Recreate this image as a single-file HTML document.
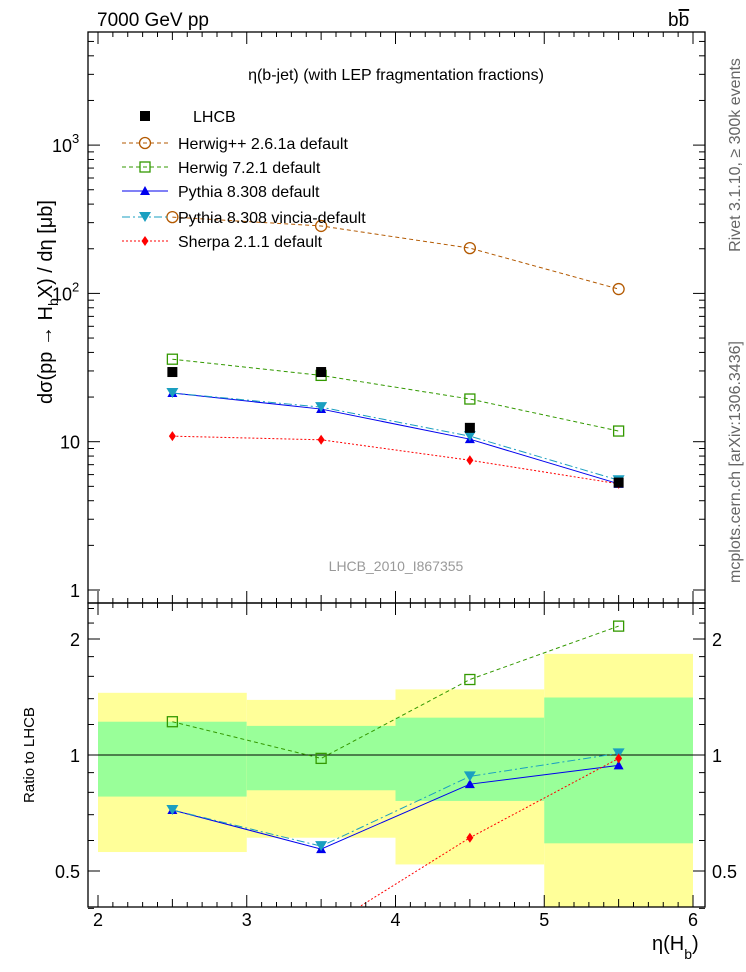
<!DOCTYPE html>
<html><head><meta charset="utf-8"><style>
body{margin:0;background:#fff}
svg{display:block;font-family:"Liberation Sans",sans-serif}
</style></head><body>
<svg id="chart" width="746" height="972" viewBox="0 0 746 972">
<defs>
<clipPath id="cm"><rect x="88" y="32" width="617" height="571"/></clipPath>
<clipPath id="cr"><rect x="88" y="603" width="617" height="304"/></clipPath>
</defs>
<g id="bands" clip-path="url(#cr)"></g>
<g id="main" clip-path="url(#cm)"></g>
<g id="ratio" clip-path="url(#cr)"></g>
<g id="axes"></g>
<text x="97" y="26" font-size="19">7000 GeV pp</text>
<text x="668" y="26" font-size="19">b<tspan text-decoration="overline">b</tspan></text>
<text x="396" y="80" font-size="16" text-anchor="middle">η(b-jet) (with LEP fragmentation fractions)</text>
<text x="396" y="571" font-size="14" fill="#999" text-anchor="middle">LHCB_2010_I867355</text>
<text transform="translate(52,302) rotate(-90)" font-size="20" text-anchor="middle">dσ(pp → H<tspan font-size="14" dy="6">b</tspan><tspan dy="-6">X) / dη [μb]</tspan></text>
<text transform="translate(34,755) rotate(-90)" font-size="15" text-anchor="middle">Ratio to LHCB</text>
<text x="652" y="950" font-size="20">η(H<tspan font-size="14" dy="9">b</tspan><tspan dy="-9">)</tspan></text>
<text transform="translate(740,155) rotate(-90)" font-size="16" fill="#666" text-anchor="middle">Rivet 3.1.10, ≥ 300k events</text>
<text transform="translate(740,462) rotate(-90)" font-size="16" fill="#666" text-anchor="middle">mcplots.cern.ch [arXiv:1306.3436]</text>
<g id="legend"></g>
</svg>
<script>
const xCenters=[2.5,3.5,4.5,5.5];
const binEdges=[2,3,4,5,6];
const lhcb=[29.5,29.5,12.4,5.3];
const herwigpp=[327,285,202,107];
const herwig7=[36,28,19.4,11.8];
const pythia=[21.3,16.6,10.4,5.2];
const vincia=[21.3,17.1,10.9,5.5];
const sherpa=[10.9,10.3,7.5,5.2];
const yellowHi=[1.45,1.39,1.48,1.83];
const yellowLo=[0.56,0.61,0.52,0.38];
const greenHi=[1.22,1.19,1.25,1.41];
const greenLo=[0.78,0.81,0.76,0.59];
const rHerwigpp=[11,10,16,20];
const rHerwig7=[1.22,0.98,1.57,2.16];
const rPythia=[0.72,0.57,0.84,0.94];
const rVincia=[0.72,0.58,0.88,1.01];
const rSherpa=[0.37,0.35,0.61,0.98];
const xTicks=[2,3,4,5,6];
const rTicks=[0.5,1,2];

const NS="http://www.w3.org/2000/svg";
const X=v=>98+(v-2)*148.75;
const Y=v=>590-Math.log10(v)*148.3;
const R=v=>755-Math.log2(v)*116;
function mk(p,t,a){const e=document.createElementNS(NS,t);for(const k in a)e.setAttribute(k,a[k]);p.appendChild(e);return e;}
const gb=document.getElementById('bands'),gm=document.getElementById('main'),gr=document.getElementById('ratio'),ga=document.getElementById('axes'),gl=document.getElementById('legend');

for(let i=0;i<4;i++){
 let r=mk(gb,'rect',{x:X(binEdges[i]),y:R(yellowHi[i]),width:X(binEdges[i+1])-X(binEdges[i]),height:R(yellowLo[i])-R(yellowHi[i]),fill:'#ffff99'});
 
 
 let g=mk(gb,'rect',{x:X(binEdges[i]),y:R(greenHi[i]),width:X(binEdges[i+1])-X(binEdges[i]),height:R(greenLo[i])-R(greenHi[i]),fill:'#99ff99'});
 
 
}
mk(gr,'line',{x1:88,x2:705,y1:R(1),y2:R(1),stroke:'#000','stroke-width':1});

function marker(p,type,cx,cy,col){
 let e;
 if(type==='sq') e=mk(p,'rect',{x:cx-5,y:cy-5,width:10,height:10,fill:'#000'});
 else if(type==='circ') e=mk(p,'circle',{cx:cx,cy:cy,r:5.5,fill:'none',stroke:col,'stroke-width':1.3});
 else if(type==='osq') e=mk(p,'rect',{x:cx-5,y:cy-5,width:10,height:10,fill:'none',stroke:col,'stroke-width':1.3});
 else if(type==='tri') e=mk(p,'polygon',{points:`${cx},${cy-5} ${cx-5},${cy+4} ${cx+5},${cy+4}`,fill:col});
 else if(type==='itri') e=mk(p,'polygon',{points:`${cx-6},${cy-5} ${cx+6},${cy-5} ${cx},${cy+5}`,fill:col});
 else if(type==='dia') e=mk(p,'polygon',{points:`${cx},${cy-5} ${cx+3.5},${cy} ${cx},${cy+5} ${cx-3.5},${cy}`,fill:col});
 return e;
}
const series=[
 {n:'herwigpp',d:herwigpp,r:rHerwigpp,c:'#b35900',m:'circ',dash:'4,3',lab:'Herwig++ 2.6.1a default'},
 {n:'herwig7',d:herwig7,r:rHerwig7,c:'#339900',m:'osq',dash:'4,3',lab:'Herwig 7.2.1 default'},
 {n:'pythia',d:pythia,r:rPythia,c:'#0000ee',m:'tri',dash:'',lab:'Pythia 8.308 default'},
 {n:'vincia',d:vincia,r:rVincia,c:'#1a9fc0',m:'itri',dash:'8,3,2,3',lab:'Pythia 8.308 vincia-default'},
 {n:'sherpa',d:sherpa,r:rSherpa,c:'#ff0000',m:'dia',dash:'2,2',lab:'Sherpa 2.1.1 default'}
];
series.forEach(s=>{
 [[gm,s.d,Y],[gr,s.r,R]].forEach(([g,arr,f],k)=>{
  const pl=mk(g,'polyline',{points:arr.map((v,i)=>X(xCenters[i])+','+f(v)).join(' '),fill:'none',stroke:s.c,'stroke-width':1,'stroke-dasharray':s.dash});
  
  
  arr.forEach((v,i)=>{const m=marker(g,s.m,X(xCenters[i]),f(v),s.c);
   
   });
 });
});
lhcb.forEach((v,i)=>{const m=marker(gm,'sq',X(xCenters[i]),Y(v),'#000');
 
 });

const ly=[116,143,167,191,217,241];
let e=marker(gl,'sq',145,ly[0],'#000');


let t=mk(gl,'text',{x:193,y:ly[0]+6,'font-size':16});t.textContent='LHCB';


series.forEach((s,i)=>{
 const y=ly[i+1];
 mk(gl,'line',{x1:122,x2:168,y1:y,y2:y,stroke:s.c,'stroke-width':1,'stroke-dasharray':s.dash});
 const m=marker(gl,s.m,145,y,s.c);
 
 
 const tx=mk(gl,'text',{x:178,y:y+6,'font-size':16});tx.textContent=s.lab;
 
 
});

mk(ga,'rect',{x:88,y:32,width:617,height:571,fill:'none',stroke:'#000','stroke-width':1.3});
mk(ga,'rect',{x:88,y:603,width:617,height:304,fill:'none',stroke:'#000','stroke-width':1.3});
[[603,-1],[907,-1],[32,1],[603,1]].forEach(([y0,dir])=>{
 for(let v=2;v<=6.001;v+=0.1){const maj=Math.abs(v-Math.round(v))<1e-6;const half=Math.abs(v*2-Math.round(v*2))<1e-6;
  const L=maj?12:(half?8:5);mk(ga,'line',{x1:X(v),x2:X(v),y1:y0,y2:y0+dir*L,stroke:'#000','stroke-width':1});}
});
xTicks.forEach(v=>{const tx=mk(ga,'text',{x:X(v),y:926,'font-size':18,'text-anchor':'middle'});tx.textContent=v;
 
 });
for(let d=0;d<4;d++)for(let k=1;k<10;k++){const v=k*Math.pow(10,d);const y=Y(v);if(y<32)continue;const L=k===1?12:6;
 mk(ga,'line',{x1:88,x2:88+L,y1:y,y2:y,stroke:'#000'});mk(ga,'line',{x1:705,x2:705-L,y1:y,y2:y,stroke:'#000'});}
[[1,'1'],[10,'10']].forEach(([v,l])=>{const tx=mk(ga,'text',{x:80,y:Y(v)+7,'font-size':18,'text-anchor':'end'});tx.textContent=l;
 
 });
[[100,'2'],[1000,'3']].forEach(([v,l])=>{const tx=mk(ga,'text',{x:52,y:Y(v)+7,'font-size':18});tx.innerHTML='10<tspan font-size="13" dy="-9">'+l+'</tspan>';
 
 });
[0.4,0.5,0.6,0.7,0.8,0.9,1,1.2,1.4,1.6,1.8,2,2.2,2.4].forEach(v=>{const maj=rTicks.includes(v);const L=maj?12:6;const y=R(v);
 mk(ga,'line',{x1:88,x2:88+L,y1:y,y2:y,stroke:'#000'});mk(ga,'line',{x1:705,x2:705-L,y1:y,y2:y,stroke:'#000'});});
rTicks.forEach(v=>{const a=mk(ga,'text',{x:80,y:R(v)+7,'font-size':18,'text-anchor':'end'});a.textContent=v;
 
 
 const b=mk(ga,'text',{x:712,y:R(v)+7,'font-size':18});b.textContent=v;
 
 });
</script>
</body></html>
